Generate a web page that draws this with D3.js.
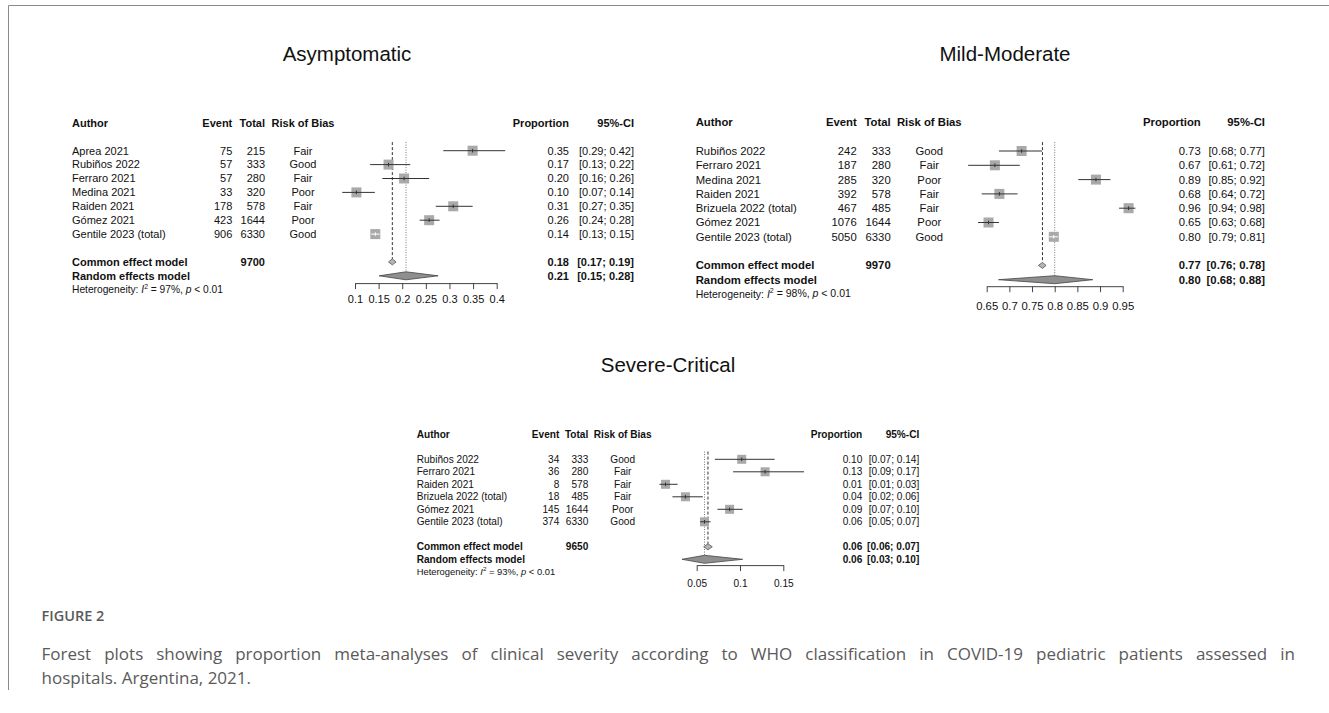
<!DOCTYPE html>
<html>
<head>
<meta charset="utf-8">
<script src="https://cdn.jsdelivr.net/npm/d3@7"></script>
<style>
  body { margin: 0; background: #fff; }
  svg text { font-family: "Liberation Sans", Arial, sans-serif; fill: #111; }
  svg text.cap { font-family: "Open Sans", "Noto Sans", sans-serif; fill: #5a5a5a; }
</style>
</head>
<body>
<div id="chart"></div>
<script>
// ---- Asymptomatic ----
const asymAuthors = ["Aprea 2021", "Rubiños 2022", "Ferraro 2021", "Medina 2021", "Raiden 2021", "Gómez 2021", "Gentile 2023 (total)"];
const asymEvents = [75, 57, 57, 33, 178, 423, 906];
const asymTotals = [215, 333, 280, 320, 578, 1644, 6330];
const asymRisk = ["Fair", "Good", "Fair", "Poor", "Fair", "Poor", "Good"];
const asymProp = [0.349, 0.171, 0.204, 0.103, 0.308, 0.257, 0.143];
const asymLower = [0.287, 0.132, 0.158, 0.073, 0.271, 0.237, 0.134];
const asymUpper = [0.418, 0.217, 0.257, 0.142, 0.349, 0.279, 0.152];
const asymCommon = [0.179, 0.171, 0.187];
const asymRandom = [0.208, 0.151, 0.276];
const asymTicks = [0.1, 0.15, 0.2, 0.25, 0.3, 0.35, 0.4];
const asymN = 9700, asymI2 = 97;

// ---- Mild-Moderate ----
const mildAuthors = ["Rubiños 2022", "Ferraro 2021", "Medina 2021", "Raiden 2021", "Brizuela 2022 (total)", "Gómez 2021", "Gentile 2023 (total)"];
const mildEvents = [242, 187, 285, 392, 467, 1076, 5050];
const mildTotals = [333, 280, 320, 578, 485, 1644, 6330];
const mildRisk = ["Good", "Fair", "Poor", "Fair", "Fair", "Poor", "Good"];
const mildProp = [0.727, 0.668, 0.891, 0.678, 0.963, 0.654, 0.798];
const mildLower = [0.677, 0.609, 0.852, 0.639, 0.942, 0.631, 0.788];
const mildUpper = [0.772, 0.723, 0.923, 0.718, 0.978, 0.677, 0.807];
const mildCommon = [0.773, 0.764, 0.781];
const mildRandom = [0.800, 0.676, 0.884];
const mildTicks = [0.65, 0.7, 0.75, 0.8, 0.85, 0.9, 0.95];
const mildN = 9970, mildI2 = 98;

// ---- Severe-Critical ----
const sevAuthors = ["Rubiños 2022", "Ferraro 2021", "Raiden 2021", "Brizuela 2022 (total)", "Gómez 2021", "Gentile 2023 (total)"];
const sevEvents = [34, 36, 8, 18, 145, 374];
const sevTotals = [333, 280, 578, 485, 1644, 6330];
const sevRisk = ["Good", "Fair", "Fair", "Fair", "Poor", "Good"];
const sevProp = [0.102, 0.129, 0.014, 0.037, 0.088, 0.059];
const sevLower = [0.071, 0.092, 0.007, 0.022, 0.074, 0.054];
const sevUpper = [0.140, 0.174, 0.028, 0.057, 0.103, 0.066];
const sevCommon = [0.063, 0.058, 0.068];
const sevRandom = [0.059, 0.033, 0.103];
const sevTicks = [0.05, 0.1, 0.15];
const sevN = 9650, sevI2 = 93;

// layout of each panel
const panels = [
  { title: "Asymptomatic", titleX: 347, titleY: 61, font: 11, x0: 72, eventR: 232.3, totalR: 265, riskC: 303,
    xRange: [355, 496.7], propR: 569, ciR: 634, row0: 150.7, rowH: 13.9, sq: 10, axisOff: 7.3, pad: 6,
    authors: asymAuthors, events: asymEvents, totals: asymTotals, risk: asymRisk, prop: asymProp,
    lower: asymLower, upper: asymUpper, common: asymCommon, random: asymRandom, ticks: asymTicks, N: asymN, I2: asymI2 },
  { title: "Mild-Moderate", titleX: 1005, titleY: 61, font: 11.3, x0: 695.7, eventR: 856.7, totalR: 890.7, riskC: 929.3,
    xRange: [986.7, 1122.7], propR: 1200.7, ciR: 1265, row0: 151, rowH: 14.3, sq: 10, axisOff: 6.5, pad: 10,
    authors: mildAuthors, events: mildEvents, totals: mildTotals, risk: mildRisk, prop: mildProp,
    lower: mildLower, upper: mildUpper, common: mildCommon, random: mildRandom, ticks: mildTicks, N: mildN, I2: mildI2 },
  { title: "Severe-Critical", titleX: 668, titleY: 372, font: 10.1, x0: 416.7, eventR: 559.3, totalR: 588.3, riskC: 622.7,
    xRange: [696.7, 783.3], propR: 862.3, ciR: 919.3, row0: 459.3, rowH: 12.5, sq: 9, axisOff: 5.8, pad: 9,
    authors: sevAuthors, events: sevEvents, totals: sevTotals, risk: sevRisk, prop: sevProp,
    lower: sevLower, upper: sevUpper, common: sevCommon, random: sevRandom, ticks: sevTicks, N: sevN, I2: sevI2 }
];

const svg = d3.select("#chart")
  .append("svg")
  .attr("width", 1329)
  .attr("height", 713);

// figure frame (top + left)
svg.append("path")
  .attr("d", "M8.5,690 V5.5 H1329")
  .attr("fill", "none")
  .attr("stroke", "#8a8a8a")
  .attr("stroke-width", 1);

const fmt = d3.format(".2f");

function drawPanel(p) {
  const g = svg.append("g");
  const n = p.authors.length;
  const rowY = i => p.row0 + i * p.rowH;
  const headY = rowY(-2), comY = rowY(n + 1), ranY = rowY(n + 2), hetY = rowY(n + 3);
  const x = d3.scaleLinear()
    .domain([p.ticks[0], p.ticks[p.ticks.length - 1]])
    .range(p.xRange);

  const txt = (xx, yy, s, anchor, bold) => g.append("text")
    .attr("x", xx).attr("y", yy).attr("dy", "0.35em")
    .attr("text-anchor", anchor)
    .attr("font-size", p.font)
    .attr("font-weight", bold ? "bold" : "normal")
    .text(s);

  // title
  g.append("text")
    .attr("x", p.titleX).attr("y", p.titleY)
    .attr("text-anchor", "middle")
    .attr("font-size", 20.5)
    .text(p.title);

  // header
  txt(p.x0, headY, "Author", "start", true);
  txt(p.eventR, headY, "Event", "end", true);
  txt(p.totalR, headY, "Total", "end", true);
  txt(p.riskC, headY, "Risk of Bias", "middle", true);
  txt(p.propR, headY, "Proportion", "end", true);
  txt(p.ciR, headY, "95%-CI", "end", true);

  // study rows text
  d3.range(n).forEach(i => {
    const y = rowY(i);
    txt(p.x0, y, p.authors[i], "start");
    txt(p.eventR, y, p.events[i], "end");
    txt(p.totalR, y, p.totals[i], "end");
    txt(p.riskC, y, p.risk[i], "middle");
    txt(p.propR, y, fmt(p.prop[i]), "end");
    txt(p.ciR, y, `[${fmt(p.lower[i])}; ${fmt(p.upper[i])}]`, "end");
  });

  // pooled rows text
  txt(p.x0, comY, "Common effect model", "start", true);
  txt(p.totalR, comY, p.N, "end", true);
  txt(p.propR, comY, fmt(p.common[0]), "end", true);
  txt(p.ciR, comY, `[${fmt(p.common[1])}; ${fmt(p.common[2])}]`, "end", true);
  txt(p.x0, ranY, "Random effects model", "start", true);
  txt(p.propR, ranY, fmt(p.random[0]), "end", true);
  txt(p.ciR, ranY, `[${fmt(p.random[1])}; ${fmt(p.random[2])}]`, "end", true);

  // heterogeneity
  const het = g.append("text")
    .attr("x", p.x0).attr("y", hetY).attr("dy", "0.35em")
    .attr("font-size", p.font * 0.93);
  het.append("tspan").text("Heterogeneity: ");
  het.append("tspan").attr("font-style", "italic").text("I");
  het.append("tspan").attr("font-size", p.font * 0.62).attr("dy", "-0.6em").text("2");
  het.append("tspan").attr("dy", "0.37em").text(` = ${p.I2}%, `);
  het.append("tspan").attr("font-style", "italic").text("p");
  het.append("tspan").text(" < 0.01");

  // reference lines
  const lineTop = rowY(0) - p.rowH * 0.62;
  g.append("line")
    .attr("x1", x(p.common[0])).attr("x2", x(p.common[0]))
    .attr("y1", lineTop).attr("y2", comY - 3)
    .attr("stroke", "#333").attr("stroke-dasharray", "3,2");
  g.append("line")
    .attr("x1", x(p.random[0])).attr("x2", x(p.random[0]))
    .attr("y1", lineTop).attr("y2", ranY)
    .attr("stroke", "#777").attr("stroke-dasharray", "1,1.5");

  // squares + CI lines
  const rows = g.selectAll("g.study")
    .data(d3.range(n))
    .join("g")
    .attr("class", "study");
  rows.append("rect")
    .attr("x", i => x(p.prop[i]) - p.sq / 2)
    .attr("y", i => rowY(i) - p.sq / 2)
    .attr("width", p.sq).attr("height", p.sq)
    .attr("fill", "#a9a9a9");
  const lineCol = i => (x(p.upper[i]) - x(p.lower[i]) < p.sq ? "#fff" : "#333");
  rows.append("line")
    .attr("x1", i => x(p.lower[i])).attr("x2", i => x(p.upper[i]))
    .attr("y1", i => rowY(i)).attr("y2", i => rowY(i))
    .attr("stroke", lineCol).attr("stroke-width", 1);
  rows.append("line")
    .attr("x1", i => x(p.prop[i])).attr("x2", i => x(p.prop[i]))
    .attr("y1", i => rowY(i) - 1.8).attr("y2", i => rowY(i) + 1.8)
    .attr("stroke", lineCol).attr("stroke-width", 1);

  // diamonds
  const diamond = (v, y, h) => `M${x(v[1])},${y}L${x(v[0])},${y - h / 2}L${x(v[2])},${y}L${x(v[0])},${y + h / 2}Z`;
  g.append("path").attr("d", diamond(p.common, comY, 6))
    .attr("fill", "#b5b5b5").attr("stroke", "#555").attr("stroke-width", 0.8);
  g.append("path").attr("d", diamond(p.random, ranY, 8))
    .attr("fill", "#8f8f8f").attr("stroke", "#444").attr("stroke-width", 0.8);

  // x axis
  const ax = g.append("g")
    .attr("transform", `translate(0,${ranY + p.axisOff})`)
    .call(d3.axisBottom(x)
      .tickValues(p.ticks)
      .tickFormat(d => String(d))
      .tickSize(6)
      .tickSizeOuter(0)
      .tickPadding(p.pad));
  ax.attr("font-family", null).attr("font-size", null);
  ax.select(".domain").attr("stroke", "#444");
  ax.selectAll(".tick line").attr("stroke", "#444");
  ax.selectAll(".tick text").attr("font-size", p.font).attr("fill", "#111");
}

panels.forEach(drawPanel);

// ---- caption ----
const capX = 41.5;
const capLine1 = "Forest plots showing proportion meta-analyses of clinical severity according to WHO classification in COVID-19 pediatric patients assessed in";
const capLine2 = "hospitals. Argentina, 2021.";

svg.append("text")
  .attr("class", "cap")
  .attr("x", capX).attr("y", 621)
  .attr("font-size", 14.5)
  .attr("font-weight", 600)
  .text("FIGURE 2");

function justified(line, y, right) {
  const words = line.split(" ");
  const cg = svg.append("g").attr("transform", `translate(${capX},${y})`);
  const nodes = words.map(w => cg.append("text").attr("class", "cap").attr("font-size", 17).text(w));
  const widths = nodes.map(t => t.node().getComputedTextLength());
  let gap = 4.4;
  if (right != null) gap = Math.max(2, (right - capX - d3.sum(widths)) / (words.length - 1));
  let cx = 0;
  nodes.forEach((t, i) => { t.attr("x", cx); cx += widths[i] + gap; });
}
justified(capLine1, 659.5, 1295);
justified(capLine2, 683.5, null);
</script>
</body>
</html>
